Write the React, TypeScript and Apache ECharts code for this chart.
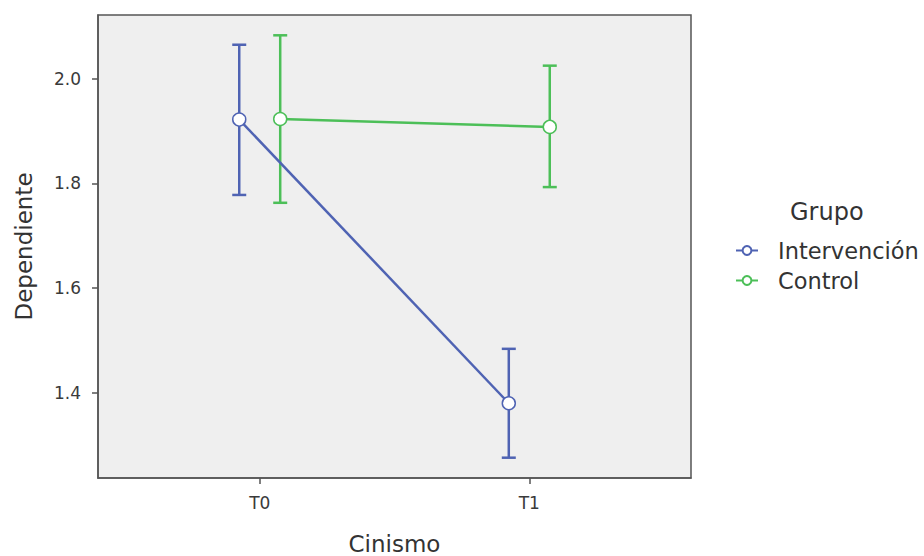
import React, { useEffect, useRef } from "react";
import * as echarts from "echarts";

const categories = ["T0", "T1"];
const groups = ["Intervención", "Control"];
const groupOffsets = [-0.076, 0.076];
const meanIntervencion = [1.922, 1.380];
const lowIntervencion = [1.778, 1.276];
const highIntervencion = [2.065, 1.484];
const meanControl = [1.923, 1.908];
const lowControl = [1.763, 1.793];
const highControl = [2.083, 2.025];
const yTicks = [1.4, 1.6, 1.8, 2.0];
const colors = ["#4f63b3", "#4cbf58"];

const FONT = "'DejaVu Sans', 'Liberation Sans', Arial, sans-serif";

export default function App() {
  const ref = useRef<HTMLDivElement>(null);
  useEffect(() => {
    if (!ref.current) return;
    const chart = echarts.init(ref.current, undefined, { renderer: "svg" });
    const means = [meanIntervencion, meanControl];
    const lows = [lowIntervencion, lowControl];
    const highs = [highIntervencion, highControl];
    const xPos = categories.map((_, i) => i + 1);

    const series: any[] = [];
    groups.forEach((g, gi) => {
      series.push({
        type: "custom",
        name: g + "-err",
        z: 2,
        renderItem: (params: any, api: any) => {
          const x = api.value(0);
          const top = api.coord([x, api.value(2)]);
          const bot = api.coord([x, api.value(1)]);
          const style = { stroke: colors[gi], lineWidth: 2.5 };
          const hw = 7;
          return {
            type: "group",
            children: [
              { type: "line", shape: { x1: top[0], y1: top[1], x2: bot[0], y2: bot[1] }, style },
              { type: "line", shape: { x1: top[0] - hw, y1: top[1], x2: top[0] + hw, y2: top[1] }, style },
              { type: "line", shape: { x1: bot[0] - hw, y1: bot[1], x2: bot[0] + hw, y2: bot[1] }, style },
            ],
          };
        },
        data: xPos.map((x, i) => [x + groupOffsets[gi], lows[gi][i], highs[gi][i]]),
      });
      series.push({
        type: "line",
        name: g,
        z: 3,
        symbol: "circle",
        symbolSize: 13,
        showSymbol: true,
        lineStyle: { color: colors[gi], width: 2.5 },
        itemStyle: { color: "#ffffff", borderColor: colors[gi], borderWidth: 1.5 },
        data: xPos.map((x, i) => [x + groupOffsets[gi], means[gi][i]]),
      });
    });

    chart.setOption({
      animation: false,
      textStyle: { fontFamily: FONT },
      title: {
        text: "Grupo",
        left: 790,
        top: 200,
        padding: 0,
        textStyle: { fontFamily: FONT, fontSize: 24, fontWeight: "normal", color: "#333333" },
      },
      legend: {
        data: groups,
        orient: "vertical",
        left: 735,
        top: 239,
        padding: 0,
        itemWidth: 22,
        itemHeight: 11,
        itemGap: 7,
        textStyle: {
          fontFamily: FONT,
          fontSize: 22.5,
          color: "#333333",
          lineHeight: 22,
          padding: [0, 0, 0, 15],
        },
      },
      grid: {
        left: 98,
        top: 15,
        width: 593,
        height: 463,
        show: true,
        backgroundColor: "#efefef",
        borderColor: "#555555",
        borderWidth: 1.5,
        containLabel: false,
        outerBoundsMode: "none",
      },
      xAxis: {
        type: "value",
        min: 0.4,
        max: 2.6,
        name: "Cinismo",
        nameLocation: "middle",
        nameGap: 54,
        nameTextStyle: { fontFamily: FONT, fontSize: 23, color: "#333333" },
        axisLine: { show: true, lineStyle: { color: "#555555", width: 1.5 } },
        axisTick: { show: true, customValues: xPos, length: 6, lineStyle: { color: "#555555", width: 1.5 } },
        axisLabel: {
          customValues: xPos,
          margin: 16,
          fontSize: 17,
          color: "#3a3a3a",
          fontFamily: FONT,
          formatter: (v: number) => categories[Math.round(v) - 1] ?? "",
        },
        splitLine: { show: false },
      },
      yAxis: {
        type: "value",
        min: 1.2372,
        max: 2.1218,
        name: "Dependiente",
        nameLocation: "middle",
        nameGap: 63,
        nameTextStyle: { fontFamily: FONT, fontSize: 23, color: "#333333" },
        axisLine: { show: true, lineStyle: { color: "#555555", width: 1.5 } },
        axisTick: { show: true, customValues: yTicks, length: 6, lineStyle: { color: "#555555", width: 1.5 } },
        axisLabel: {
          customValues: yTicks,
          margin: 17,
          fontSize: 17,
          color: "#3a3a3a",
          fontFamily: FONT,
          formatter: (v: number) => v.toFixed(1),
        },
        splitLine: { show: false },
      },
      series,
    });
    return () => chart.dispose();
  }, []);
  return (
    <div
      ref={ref}
      style={{ position: "fixed", left: 0, top: 0, width: 924, height: 556, background: "#ffffff" }}
    />
  );
}
